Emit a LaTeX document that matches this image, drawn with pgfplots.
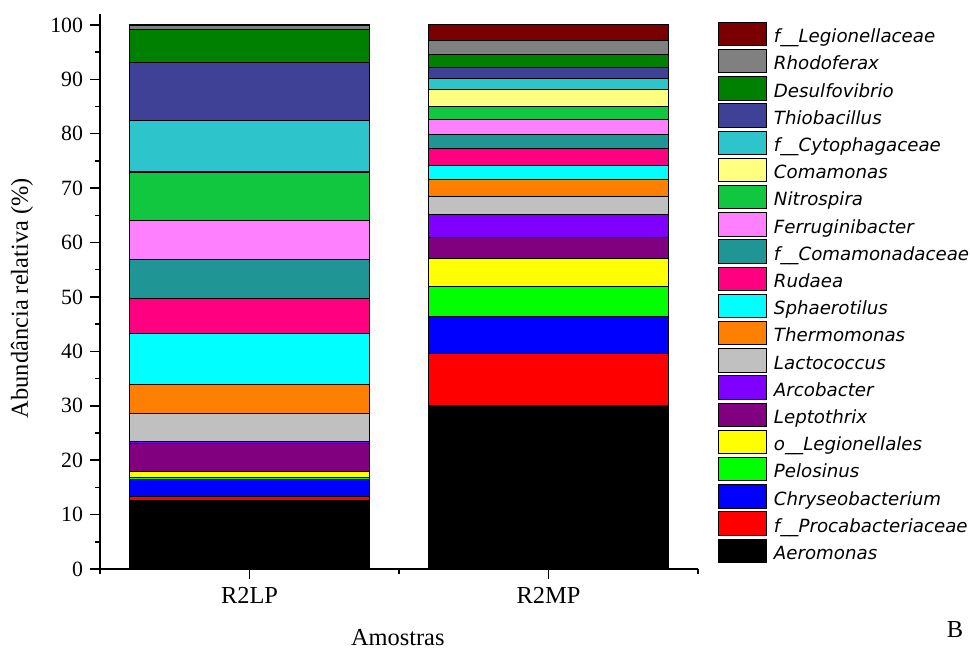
\documentclass[border=0pt]{standalone}
\usepackage{fontspec}
\setmainfont{Liberation Serif}
\newfontfamily\legfont{DejaVu Sans}
\usepackage{pgfplots}
\pgfplotsset{compat=1.18}
\definecolor{cAero}{RGB}{0,0,0}
\definecolor{cProc}{RGB}{255,0,0}
\definecolor{cChry}{RGB}{0,0,255}
\definecolor{cPelo}{RGB}{0,255,0}
\definecolor{coLeg}{RGB}{255,255,0}
\definecolor{cLept}{RGB}{128,0,128}
\definecolor{cArco}{RGB}{128,0,255}
\definecolor{cLact}{RGB}{192,192,192}
\definecolor{cTher}{RGB}{255,128,0}
\definecolor{cSpha}{RGB}{0,255,255}
\definecolor{cRuda}{RGB}{255,0,128}
\definecolor{cCmdc}{RGB}{31,149,149}
\definecolor{cFerr}{RGB}{255,128,255}
\definecolor{cNitr}{RGB}{18,199,64}
\definecolor{cComa}{RGB}{255,255,128}
\definecolor{cCyto}{RGB}{46,196,203}
\definecolor{cThio}{RGB}{63,65,150}
\definecolor{cDesu}{RGB}{0,128,0}
\definecolor{cRhod}{RGB}{128,128,128}
\definecolor{cfLeg}{RGB}{122,0,0}
\begin{document}
\begin{tikzpicture}
\path[use as bounding box] (0,0) rectangle (485bp,324bp);
\begin{axis}[
  at={(50bp,39.5bp)}, anchor=south west,
  scale only axis, width=299bp, height=277.5bp,
  ybar stacked, bar width=0.8,
  xmin=-0.5, xmax=1.5, ymin=0, ymax=102,
  axis x line*=bottom, axis y line*=left,
  xtick={0,1}, xticklabels={R2LP,R2MP},
  minor xtick={-0.5,0.5,1.5},
  ytick={0,10,...,100}, minor ytick={5,15,...,95},
  tick align=outside,
  major tick length=5bp, minor tick length=2.5bp,
  axis line style={line width=0.75bp},
  every tick/.style={line width=0.75bp, black},
  /pgf/number format/assume math mode=true,
  yticklabel style={font=\fontsize{10.9bp}{12bp}\selectfont},
  xticklabel style={font=\fontsize{12.2bp}{14bp}\selectfont, anchor=base, yshift=-12.2bp},
  ylabel={Abundância relativa (\%)},
  ylabel style={at={(axis description cs:-0.1304,0.488)}, anchor=center, rotate=0, font=\fontsize{12.2bp}{14bp}\selectfont},
  xlabel={Amostras},
  xlabel style={at={(axis description cs:0.498,0)}, anchor=base, yshift=-38bp, font=\fontsize{12.2bp}{14bp}\selectfont},
  every axis plot/.append style={draw=black, line width=0.5bp},
  area legend,
  legend image code/.code={\draw[#1, line width=0.5bp] (0bp,-5.85bp) rectangle (24bp,5.85bp);},
  reverse legend,
  legend cell align=left,
  legend style={at={(1.0334,0.9861)}, anchor=north west, draw=none, fill=none,
    inner sep=0pt, outer sep=0pt, row sep=1.4bp,
    nodes={inner sep=0pt, text height=10.2bp, text depth=1.5bp,
      font=\legfont\itshape\fontsize{9.1bp}{10bp}\selectfont},
    /tikz/every odd column/.append style={column sep=3.5bp}},
]
\addplot[fill=cAero] coordinates {(0,12.5) (1,30.0)};
\addlegendentry{Aeromonas}
\addplot[fill=cProc] coordinates {(0,0.9) (1,9.6)};
\addlegendentry{f\_\_Procabacteriaceae}
\addplot[fill=cChry] coordinates {(0,3.1) (1,6.8)};
\addlegendentry{Chryseobacterium}
\addplot[fill=cPelo] coordinates {(0,0.3) (1,5.5)};
\addlegendentry{Pelosinus}
\addplot[fill=coLeg] coordinates {(0,1.2) (1,5.1)};
\addlegendentry{o\_\_Legionellales}
\addplot[fill=cLept] coordinates {(0,5.1) (1,4.0)};
\addlegendentry{Leptothrix}
\addplot[fill=cArco] coordinates {(0,0.4) (1,4.1)};
\addlegendentry{Arcobacter}
\addplot[fill=cLact] coordinates {(0,5.1) (1,3.3)};
\addlegendentry{Lactococcus}
\addplot[fill=cTher] coordinates {(0,5.3) (1,3.2)};
\addlegendentry{Thermomonas}
\addplot[fill=cSpha] coordinates {(0,9.3) (1,2.6)};
\addlegendentry{Sphaerotilus}
\addplot[fill=cRuda] coordinates {(0,6.5) (1,3.0)};
\addlegendentry{Rudaea}
\addplot[fill=cCmdc] coordinates {(0,7.1) (1,2.7)};
\addlegendentry{f\_\_Comamonadaceae}
\addplot[fill=cFerr] coordinates {(0,7.2) (1,2.7)};
\addlegendentry{Ferruginibacter}
\addplot[fill=cNitr] coordinates {(0,8.8) (1,2.4)};
\addlegendentry{Nitrospira}
\addplot[fill=cComa] coordinates {(0,0.3) (1,3.1)};
\addlegendentry{Comamonas}
\addplot[fill=cCyto] coordinates {(0,9.4) (1,2.1)};
\addlegendentry{f\_\_Cytophagaceae}
\addplot[fill=cThio] coordinates {(0,10.6) (1,1.9)};
\addlegendentry{Thiobacillus}
\addplot[fill=cDesu] coordinates {(0,6.0) (1,2.4)};
\addlegendentry{Desulfovibrio}
\addplot[fill=cRhod] coordinates {(0,0.8) (1,2.7)};
\addlegendentry{Rhodoferax}
\addplot[fill=cfLeg] coordinates {(0,0.1) (1,2.8)};
\addlegendentry{f\_\_Legionellaceae}
\end{axis}
\node[anchor=base, font=\fontsize{12.2bp}{14bp}\selectfont] at (477.5bp,5.15bp) {B};
\end{tikzpicture}
\end{document}
